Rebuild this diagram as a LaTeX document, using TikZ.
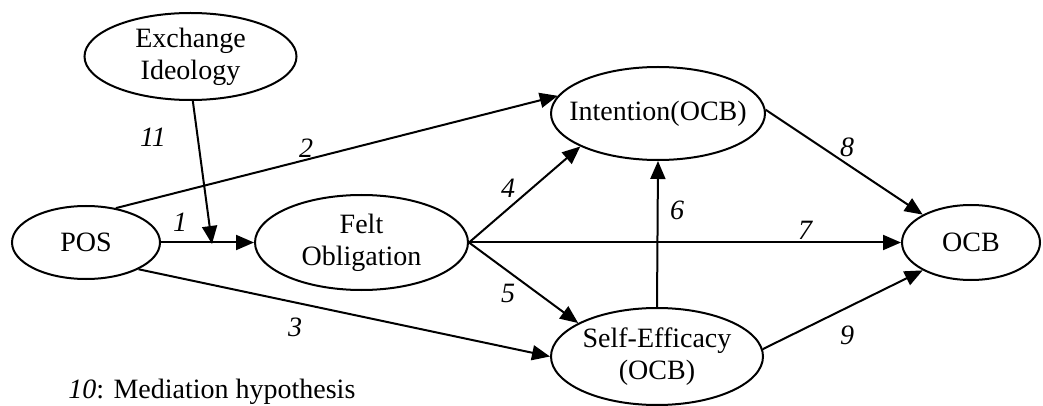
\documentclass[tikz,border=0pt]{standalone}
\usepackage{fontspec}
\setmainfont{Liberation Serif}
\usetikzlibrary{arrows.meta,shapes.geometric}
\begin{document}
\begin{tikzpicture}[x=0.5pt,y=-0.5pt,
  construct/.style={ellipse,draw,line width=1pt,inner sep=0pt},
  lbl/.style={font=\fontsize{14}{16}\selectfont,align=center,inner sep=0pt},
  num/.style={font=\fontsize{14}{16}\selectfont\itshape,inner sep=0pt},
  link/.style={line width=1pt,-{Triangle[length=9pt,width=7.5pt]}}]
\useasboundingbox (0,0) rectangle (1043,406);

% constructs
\node[construct,minimum width=106pt,minimum height=43.5pt] (ei) at (190.5,56.5) {};
\node[construct,minimum width=74pt,minimum height=36.5pt] (pos) at (86,242.5) {};
\node[construct,minimum width=106.5pt,minimum height=47.5pt] (fo) at (361.5,242.5) {};
\node[construct,minimum width=107pt,minimum height=46.5pt] (int) at (658,113.5) {};
\node[construct,minimum width=106pt,minimum height=48.5pt] (se) at (657,356.5) {};
\node[construct,minimum width=69pt,minimum height=37.5pt] (ocb) at (971,242.5) {};

\node[lbl] (eit) at (ei) {Exchange\\Ideology};
\node[lbl] (post) at (pos) {POS};
\node[lbl] (fot) at (fo) {Felt\\Obligation};
\node[lbl] (intt) at (int) {Intention(OCB)};
\node[lbl] (set) at (se) {Self-Efficacy\\(OCB)};
\node[lbl] (ocbt) at (ocb) {OCB};

% paths
\coordinate (m) at (212,244);
\draw[link] (pos.east) -- (fo.west);
\draw[link] (ei.273) -- (m);
\draw[link] (pos.49) -- (int.170);
\draw[link] (pos.-27) -- (se.west);
\draw[link] (fo.east) -- (int.203);
\draw[link] (fo.east) -- (se.157);
\draw[link] (fo.east) -- (ocb.west);
\draw[link] (se.north) -- (int.south);
\draw[link] (int.2) -- (ocb.150);
\draw[link] (se.4) -- (ocb.210);

% hypothesis numbers
\node[num] (h11) at (153,137) {11};
\node[num] (h2) at (306,148) {2};
\node[num] (h1) at (180,222) {1};
\node[num] (h3) at (295,327) {3};
\node[num] (h4) at (508,188) {4};
\node[num] (h5) at (508,293) {5};
\node[num] (h6) at (677,210) {6};
\node[num] (h7) at (805,230) {7};
\node[num] (h8) at (847,147) {8};
\node[num] (h9) at (847,335) {9};

\node[lbl,anchor=base west] (note) at (68,398) {\textit{10}: Mediation hypothesis};
\end{tikzpicture}
\end{document}
